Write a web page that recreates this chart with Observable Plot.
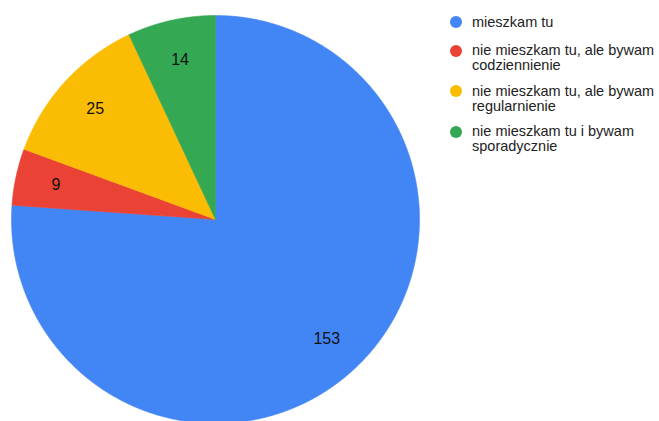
<!DOCTYPE html>
<html><head><meta charset="utf-8">
<script src="https://cdn.jsdelivr.net/npm/d3@7"></script>
<script src="https://cdn.jsdelivr.net/npm/@observablehq/plot@0.6"></script>
<style>
body{margin:0;background:#fff;}
#wrap{position:relative;width:659px;height:421px;overflow:hidden;font-family:Arial,"Liberation Sans",sans-serif;}
#legend{position:absolute;left:450px;top:14.5px;display:flex;flex-direction:column;gap:10.5px;}
#legend .item:first-child{margin-bottom:3px;}
.item{display:flex;align-items:flex-start;}
.dot{width:12px;height:12px;border-radius:50%;margin-top:1.5px;flex:none;}
.lab{margin-left:10px;font-size:14.5px;line-height:15px;color:#222;white-space:nowrap;}
</style></head>
<body><div id="wrap"><div id="chart"></div><div id="legend"></div></div>
<script>
const categories = ["mieszkam tu", "nie mieszkam tu, ale bywam codziennienie", "nie mieszkam tu, ale bywam regularnienie", "nie mieszkam tu i bywam sporadycznie"];
const legendLines = [["mieszkam tu"], ["nie mieszkam tu, ale bywam", "codziennienie"], ["nie mieszkam tu, ale bywam", "regularnienie"], ["nie mieszkam tu i bywam", "sporadycznie"]];
const values = [153, 9, 25, 14];
const colors = ["#4285F4", "#EA4335", "#FBBC04", "#34A853"];

const data = categories.map((c, i) => ({key: c, value: values[i]}));
const arcs = d3.pie().sort(null).value(d => d.value)(data);

const pts = [];
arcs.forEach(a => {
  pts.push({key: a.data.key, x: 0, y: 0});
  const n = Math.max(4, Math.ceil((a.endAngle - a.startAngle) / 0.005));
  for (let i = 0; i <= n; i++) {
    const t = a.startAngle + (a.endAngle - a.startAngle) * i / n;
    pts.push({key: a.data.key, x: Math.sin(t), y: Math.cos(t)});
  }
  pts.push({key: a.data.key, x: 0, y: 0});
});
const labels = arcs.map(a => {
  const m = (a.startAngle + a.endAngle) / 2;
  return {key: a.data.key, value: a.data.value, x: 0.8 * Math.sin(m), y: 0.8 * Math.cos(m)};
});

const R = 204, cx = 215, cy = 219, W = 659, H = 421;
const chart = Plot.plot({
  width: W, height: H,
  margin: 0,
  x: {domain: [-cx / R, (W - cx) / R], range: [0, W], axis: null},
  y: {domain: [-(H - cy) / R, cy / R], range: [H, 0], axis: null},
  color: {domain: categories, range: colors},
  style: {background: "white", fontFamily: "Arial, 'Liberation Sans', sans-serif"},
  marks: [
    Plot.line(pts, {x: "x", y: "y", z: "key", fill: "key", stroke: "key", strokeWidth: 0.6, curve: "linear"}),
    Plot.text(labels, {x: "x", y: "y", text: d => String(d.value), fill: "#111", fontSize: 16})
  ]
});
document.getElementById("chart").appendChild(chart);

const leg = document.getElementById("legend");
legendLines.forEach((lines, i) => {
  const it = document.createElement("div");
  it.className = "item";
  const d = document.createElement("div");
  d.className = "dot";
  d.style.background = colors[i];
  const t = document.createElement("div");
  t.className = "lab";
  t.innerHTML = lines.join("<br>");
  it.appendChild(d); it.appendChild(t);
  leg.appendChild(it);
});
</script>
</body></html>
